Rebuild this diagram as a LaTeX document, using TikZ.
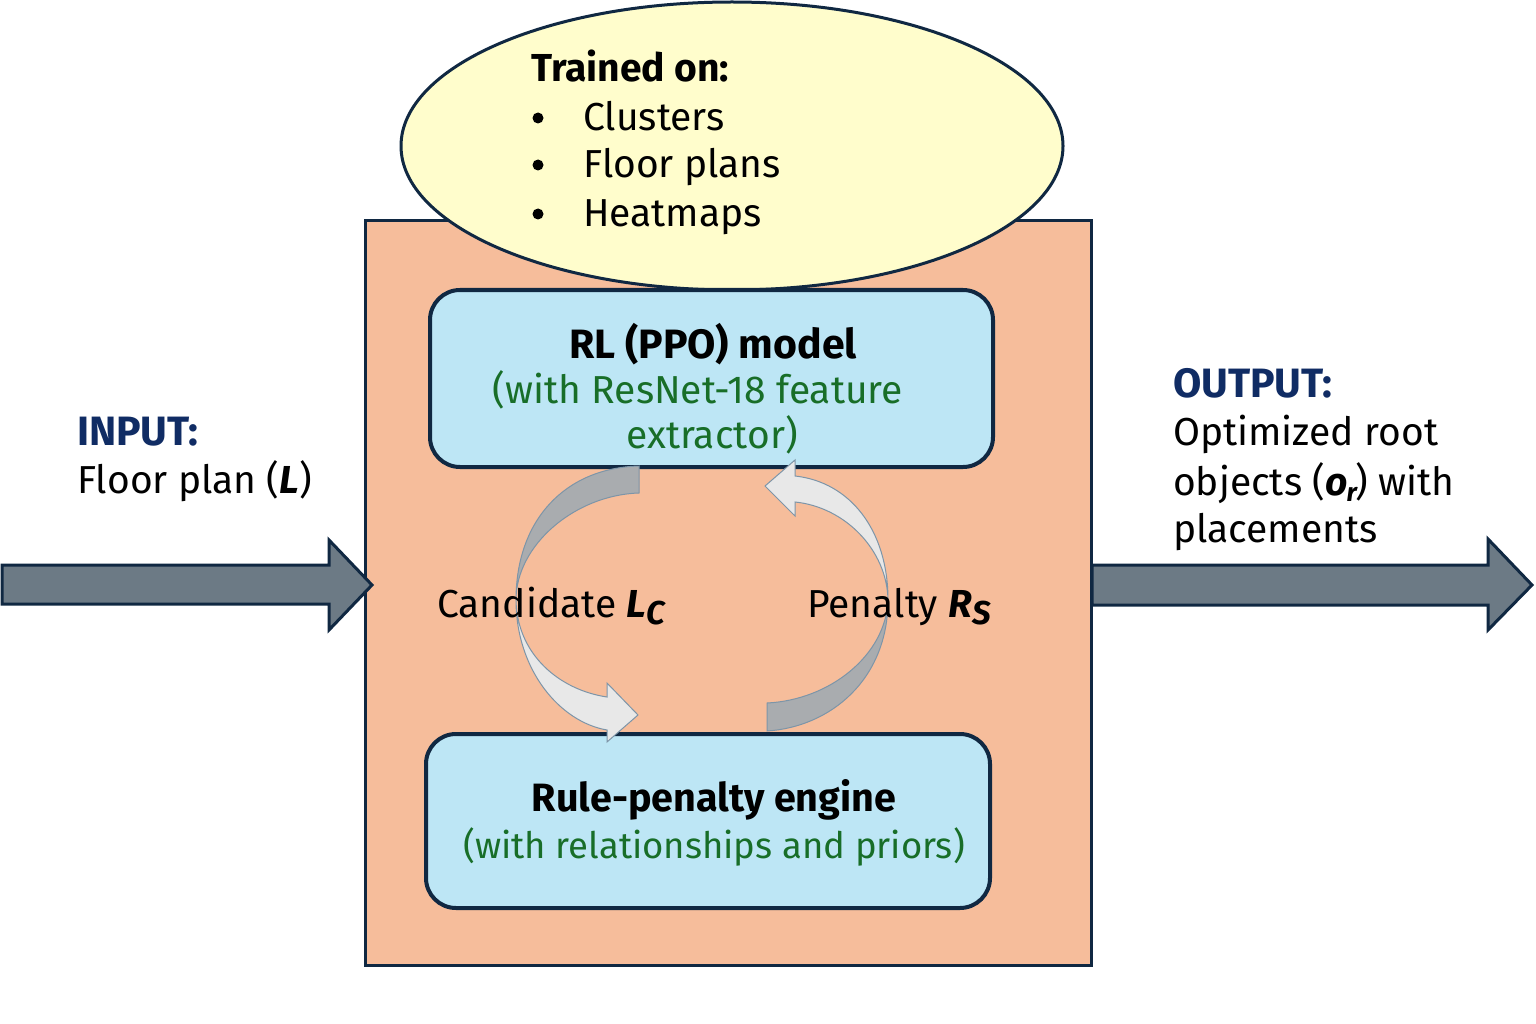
\documentclass[tikz,border=0pt]{standalone}
\usepackage{fontspec}
\setmainfont{Fira Sans}
\usetikzlibrary{shapes.geometric}
\definecolor{navy}{RGB}{16,40,66}
\definecolor{orangefill}{RGB}{246,189,155}
\definecolor{yellowfill}{RGB}{255,253,204}
\definecolor{bluefill}{RGB}{189,230,245}
\definecolor{greentxt}{RGB}{24,110,40}
\definecolor{arrowgray}{RGB}{108,122,133}
\definecolor{headblue}{RGB}{16,44,100}
\definecolor{ribdark}{RGB}{169,172,175}
\definecolor{riblight}{RGB}{232,232,232}
\definecolor{ribline}{RGB}{125,149,168}
\newcommand{\fs}{\fontsize{39}{46}\selectfont}
\begin{document}
\begin{tikzpicture}[x=1pt,y=-1pt,
  txt/.style={anchor=base west,inner sep=0pt,font=\fs},
  ctxt/.style={anchor=base,inner sep=0pt,font=\fs},
  bold/.style={font=\fs\bfseries},
  green/.style={text=greentxt},
  bulletdot/.style={circle,fill=black,inner sep=0pt,minimum size=11pt},
  bluebox/.style={draw=navy,line width=4pt,fill=bluefill,rounded corners=30pt,inner sep=0pt},
  bigarrow/.style={draw=navy,line width=3pt,fill=arrowgray,line join=miter},
  ribd/.style={fill=ribdark,draw=ribline,line width=1pt},
  ribl/.style={fill=riblight,draw=ribline,line width=1pt}]
\useasboundingbox (0,0) rectangle (1536,1024);
\fill[white] (0,0) rectangle (1536,1024);
% main box
\node[draw=navy,line width=3pt,fill=orangefill,minimum width=726pt,minimum height=744pt,inner sep=0pt] (main) at (728,593) {};
% ellipse
\node[draw=navy,line width=3pt,fill=yellowfill,ellipse,minimum width=662pt,minimum height=288pt,inner sep=0pt] (train) at (732,146) {};
% inner boxes
\node[bluebox,minimum width=563pt,minimum height=177pt] (rl) at (711.5,378.5) {};
\node[bluebox,minimum width=564pt,minimum height=174pt] (rule) at (708,821) {};
% big arrows
\draw[bigarrow] (2,565) -- (329,565) -- (329,540) -- (372,585) -- (329,630) -- (329,604) -- (2,604) -- cycle;
\draw[bigarrow] (1092,565) -- (1488,565) -- (1488,539) -- (1532,585) -- (1488,630) -- (1488,605) -- (1092,605) -- cycle;
% ribbon arrows
\filldraw[ribd] (639,466) .. controls (565,468) and (516,520) .. (516,600) .. controls (516,545) and (575,495) .. (639,493) -- cycle;
\filldraw[ribl] (516,600) .. controls (516,670) and (560,722) .. (607,730) -- (607,742) -- (638,715) -- (607,683) -- (607,697) .. controls (560,690) and (517,655) .. (516,600) -- cycle;
\filldraw[ribl] (888,600) .. controls (887,550) and (845,507) .. (795,502) -- (795,516) -- (765,486) -- (795,460) -- (795,476) .. controls (850,482) and (888,530) .. (888,600) -- cycle;
\filldraw[ribd] (888,600) .. controls (888,680) and (830,727) .. (767,731) -- (767,703) .. controls (830,700) and (886,655) .. (888,600) -- cycle;
% ellipse text
\node[txt,bold] (trained) at (531,82) {Trained on:};
\node[bulletdot] (b1) at (538,118) {};
\node[bulletdot] (b2) at (538,165) {};
\node[bulletdot] (b3) at (538,214) {};
\node[txt] (clusters) at (583,131) {Clusters};
\node[txt] (floorplans) at (583,178) {Floor plans};
\node[txt] (heatmaps) at (583,227) {Heatmaps};
% box texts
\node[ctxt,font=\fontsize{41}{46}\selectfont\bfseries] (rltitle) at (713,358) {RL (PPO) model};
\node[ctxt,green] (rlsub1) at (698,403) {(with ResNet-18 feature};
\node[ctxt,green] (rlsub2) at (712,448) {extractor)};
\node[ctxt,font=\fontsize{39.5}{46}\selectfont\bfseries] (ruletitle) at (714,811) {Rule-penalty engine};
\node[ctxt,green,font=\fontsize{36.5}{46}\selectfont] (rulesub) at (714,858) {(with relationships and priors)};
% input / output
\node[txt,font=\fontsize{41}{46}\selectfont\bfseries,text=headblue] (input) at (77,445) {INPUT:};
\node[txt] (inputtxt) at (77,493) {Floor plan (\textbf{\textit{L}})};
\node[txt,font=\fontsize{41}{46}\selectfont\bfseries,text=headblue] (output) at (1173,397) {OUTPUT:};
\node[txt] (out1) at (1173,445) {Optimized root};
\node[txt] (out2) at (1173,495) {objects (\textbf{\textit{o}}\kern-1pt\raisebox{-6pt}{\fontsize{26}{26}\selectfont\bfseries\itshape r}\kern-1pt) with};
\node[txt] (out3) at (1173,542) {placements};
% loop labels
\node[txt] (cand) at (437,617) {Candidate \textbf{\textit{L}}\raisebox{-7pt}{\fontsize{33}{33}\selectfont\bfseries\itshape C}};
\node[txt] (pen) at (807,617) {Penalty \textbf{\textit{R}}\raisebox{-7pt}{\fontsize{33}{33}\selectfont\bfseries\itshape S}};
\end{tikzpicture}
\end{document}
